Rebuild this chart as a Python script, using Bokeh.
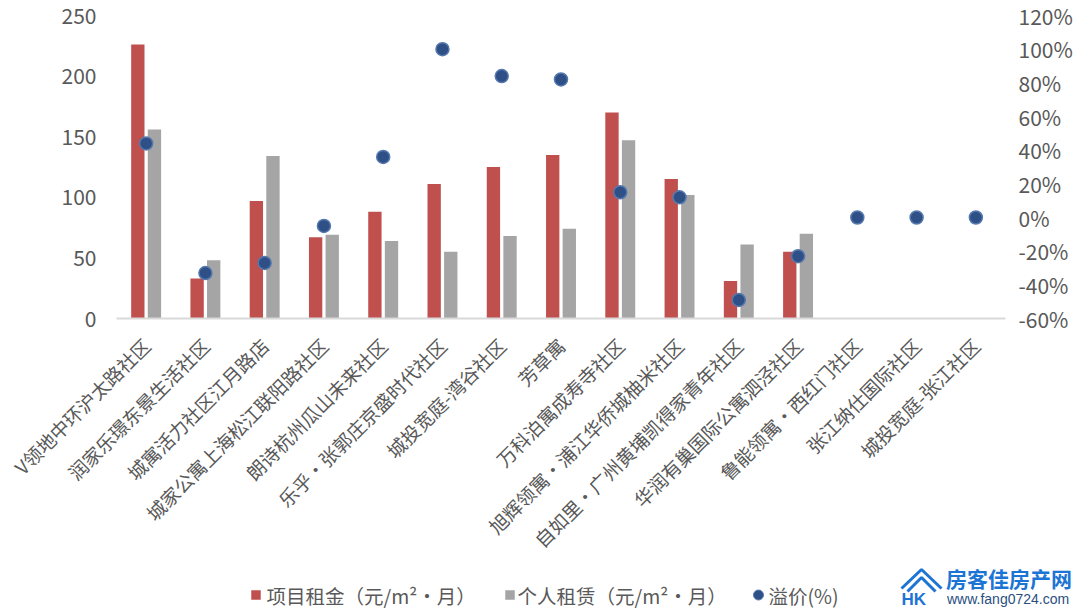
from bokeh.plotting import figure
from bokeh.models import (ColumnDataSource, Range1d, LinearAxis, FixedTicker, PrintfTickFormatter,
                          FactorRange, Div)
from bokeh.layouts import column
from bokeh.transform import dodge
from bokeh.core.properties import value
from bokeh.embed import file_html
from bokeh.resources import INLINE

nan = float("nan")
categories = ["V领地中环沪太路社区", "润家乐璟东景生活社区", "城寓活力社区江月路店", "城家公寓上海松江联阳路社区",
              "朗诗杭州瓜山未来社区", "乐乎・张郭庄京盛时代社区", "城投宽庭-湾谷社区", "芳草寓",
              "万科泊寓成寿寺社区", "旭辉领寓・浦江华侨城柚米社区", "自如里・广州黄埔凯得家青年社区",
              "华润有巢国际公寓泗泾社区", "鲁能领寓・西红门社区", "张江纳仕国际社区", "城投宽庭-张江社区"]
project_rent = [226, 33, 97, 67, 88, 111, 125, 135, 170, 115, 31, 55, nan, nan, nan]
personal_rent = [156, 48, 134, 69, 64, 55, 68, 74, 147, 102, 61, 70, nan, nan, nan]
premium_pct = [44, -33, -27, -5, 36, 100, 84, 82, 15, 12, -49, -23, 0, 0, 0]
left_ticks = [0, 50, 100, 150, 200, 250]
right_ticks = [-60, -40, -20, 0, 20, 40, 60, 80, 100, 120]
legend_labels = ["项目租金（元/m²・月）", "个人租赁（元/m²・月）", "溢价(%)"]

RED, GRAY, NAVY, NAVY_EDGE = "#C0504D", "#A5A5A5", "#2F5086", "#5578AE"
FONT = "Noto Sans CJK SC"
TXT = "#595959"
LOGO = "#1C74D4"
W = 1078
FL, FR = 116, 1005  # frame left / right in page pixels

src = ColumnDataSource(dict(cat=categories, a=project_rent, b=personal_rent, c=premium_pct))

p = figure(width=W, height=565, x_range=FactorRange(*categories), y_range=Range1d(0, 250),
           output_backend="svg", toolbar_location=None,
           min_border_left=FL, min_border_right=W - FR, min_border_top=15, min_border_bottom=245)
p.x_range.range_padding = 0
p.extra_y_ranges = {"pct": Range1d(-60, 120)}
p.outline_line_color = None
p.grid.visible = False

p.vbar(x=dodge("cat", -0.14, range=p.x_range), top="a", width=0.225, source=src,
       fill_color=RED, line_color=None)
p.vbar(x=dodge("cat", 0.14, range=p.x_range), top="b", width=0.225, source=src,
       fill_color=GRAY, line_color=None)
p.scatter(x="cat", y="c", y_range_name="pct", size=13, source=src,
          fill_color=NAVY, line_color=NAVY_EDGE, line_width=1.5)

xa = p.xaxis[0]
xa.major_label_orientation = 0.7854
xa.major_label_text_font = FONT
xa.major_label_text_font_size = "19px"
xa.major_label_text_color = TXT
xa.axis_line_color = "#D9D9D9"
xa.axis_line_width = 2
xa.major_tick_line_color = None
xa.minor_tick_line_color = None
xa.major_label_standoff = 17

ya = p.yaxis[0]
ya.ticker = FixedTicker(ticks=left_ticks)
ya.axis_line_color = None
ya.major_tick_line_color = None
ya.minor_tick_line_color = None
ya.major_label_text_font = FONT
ya.major_label_text_font_size = "21px"
ya.major_label_text_color = TXT
ya.major_label_standoff = 14

ra = LinearAxis(y_range_name="pct", ticker=FixedTicker(ticks=right_ticks),
                formatter=PrintfTickFormatter(format="%d%%"))
ra.axis_line_color = None
ra.major_tick_line_color = None
ra.minor_tick_line_color = None
ra.major_label_text_font = FONT
ra.major_label_text_font_size = "21px"
ra.major_label_text_color = TXT
ra.major_label_standoff = 7
p.add_layout(ra, "right")

# bottom strip: legend (frame aligned with the chart; data units = page pixels)
p2 = figure(width=W, height=46, x_range=Range1d(FL, FR), y_range=Range1d(611, 565),
            output_backend="svg", toolbar_location=None, x_axis_location=None, y_axis_location=None,
            min_border_left=FL, min_border_right=W - FR, min_border_top=0, min_border_bottom=0)
p2.outline_line_color = None
p2.grid.visible = False

p2.scatter(x=[255.5, 509.5], y=[594.5, 594.5], marker="square", size=9.5,
           fill_color=[RED, GRAY], line_color=None)
p2.scatter(x=[758], y=[594.5], size=10, fill_color=NAVY, line_color=NAVY_EDGE, line_width=1)
p2.text(x=[266, 517, 768], y=[594.5] * 3, text=legend_labels, text_baseline="middle",
        text_font=value(FONT), text_font_size="19.5px", text_color=TXT)

# watermark logo
p2.multi_line(xs=[[901, 921, 941], [907, 921, 935]], ys=[[588, 569, 588], [591, 577, 591]],
              line_color=LOGO, line_width=3)
p2.text(x=[901], y=[599], text=["HK"], text_baseline="middle", text_font=value("Liberation Sans"),
        text_font_size="17px", text_font_style="bold", text_color=LOGO)

wm_html = (
    '<div style="position:relative;width:178px;height:46px;">'
    '<span style="position:absolute;left:46px;top:0px;font-family:\'Noto Sans CJK SC\';font-weight:bold;'
    'font-size:21px;line-height:26px;color:%s;white-space:nowrap;">房客佳房产网</span>'
    '<span style="position:absolute;left:47px;top:27px;font-family:\'Liberation Sans\';font-size:14px;'
    'line-height:14px;color:#2A4F7F;white-space:nowrap;">www.fang0724.com</span>'
    '</div>' % LOGO
)
wm = Div(text=wm_html, width=178, height=46,
         styles={"margin-top": "-46px", "margin-left": "900px", "padding": "0px"})

open("out.html", "w").write(file_html(column(p, p2, wm, spacing=0), INLINE))
